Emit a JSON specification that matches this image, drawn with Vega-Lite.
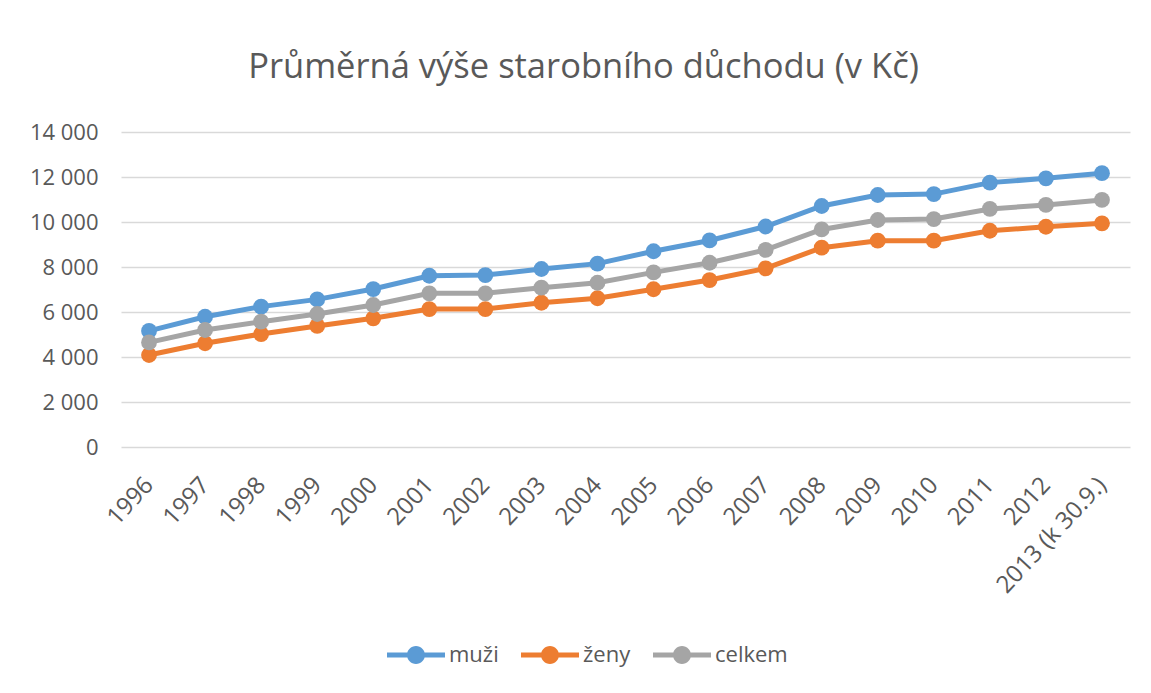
{
  "$schema": "https://vega.github.io/schema/vega-lite/v6.json",
  "autosize": "none",
  "width": 1009,
  "height": 315,
  "padding": {"left": 121, "top": 132, "right": 21, "bottom": 246},
  "background": "white",
  "title": {
    "text": "Průměrná výše starobního důchodu (v Kč)",
    "font": "Open Sans",
    "fontSize": 34.5,
    "fontWeight": "normal",
    "color": "#595959",
    "anchor": "middle",
    "dx": -42,
    "offset": 36
  },
  "config": {
    "view": {"stroke": null},
    "font": "Open Sans"
  },
  "resolve": {"legend": {"color": "independent"}},
  "data": {
    "values": [
      {"year": "1996", "series": "muži", "value": 5160},
      {"year": "1997", "series": "muži", "value": 5790},
      {"year": "1998", "series": "muži", "value": 6240},
      {"year": "1999", "series": "muži", "value": 6560},
      {"year": "2000", "series": "muži", "value": 7020},
      {"year": "2001", "series": "muži", "value": 7610},
      {"year": "2002", "series": "muži", "value": 7640},
      {"year": "2003", "series": "muži", "value": 7910},
      {"year": "2004", "series": "muži", "value": 8150},
      {"year": "2005", "series": "muži", "value": 8700},
      {"year": "2006", "series": "muži", "value": 9180},
      {"year": "2007", "series": "muži", "value": 9800},
      {"year": "2008", "series": "muži", "value": 10710},
      {"year": "2009", "series": "muži", "value": 11200},
      {"year": "2010", "series": "muži", "value": 11240},
      {"year": "2011", "series": "muži", "value": 11750},
      {"year": "2012", "series": "muži", "value": 11940},
      {"year": "2013 (k 30.9.)", "series": "muži", "value": 12170},
      {"year": "1996", "series": "ženy", "value": 4090},
      {"year": "1997", "series": "ženy", "value": 4610},
      {"year": "1998", "series": "ženy", "value": 5020},
      {"year": "1999", "series": "ženy", "value": 5380},
      {"year": "2000", "series": "ženy", "value": 5720},
      {"year": "2001", "series": "ženy", "value": 6130},
      {"year": "2002", "series": "ženy", "value": 6130},
      {"year": "2003", "series": "ženy", "value": 6410},
      {"year": "2004", "series": "ženy", "value": 6610},
      {"year": "2005", "series": "ženy", "value": 7010},
      {"year": "2006", "series": "ženy", "value": 7420},
      {"year": "2007", "series": "ženy", "value": 7940},
      {"year": "2008", "series": "ženy", "value": 8860},
      {"year": "2009", "series": "ženy", "value": 9170},
      {"year": "2010", "series": "ženy", "value": 9170},
      {"year": "2011", "series": "ženy", "value": 9610},
      {"year": "2012", "series": "ženy", "value": 9790},
      {"year": "2013 (k 30.9.)", "series": "ženy", "value": 9940},
      {"year": "1996", "series": "celkem", "value": 4650},
      {"year": "1997", "series": "celkem", "value": 5200},
      {"year": "1998", "series": "celkem", "value": 5570},
      {"year": "1999", "series": "celkem", "value": 5910},
      {"year": "2000", "series": "celkem", "value": 6310},
      {"year": "2001", "series": "celkem", "value": 6830},
      {"year": "2002", "series": "celkem", "value": 6830},
      {"year": "2003", "series": "celkem", "value": 7080},
      {"year": "2004", "series": "celkem", "value": 7300},
      {"year": "2005", "series": "celkem", "value": 7760},
      {"year": "2006", "series": "celkem", "value": 8190},
      {"year": "2007", "series": "celkem", "value": 8760},
      {"year": "2008", "series": "celkem", "value": 9670},
      {"year": "2009", "series": "celkem", "value": 10090},
      {"year": "2010", "series": "celkem", "value": 10130},
      {"year": "2011", "series": "celkem", "value": 10580},
      {"year": "2012", "series": "celkem", "value": 10760},
      {"year": "2013 (k 30.9.)", "series": "celkem", "value": 10980}
    ]
  },
  "encoding": {
    "x": {
      "field": "year",
      "type": "ordinal",
      "sort": null,
      "scale": {"type": "point", "padding": 0.5},
      "axis": {
        "title": null,
        "domain": false,
        "ticks": false,
        "grid": false,
        "labelAngle": -47,
        "labelAlign": "right",
        "labelBaseline": "middle",
        "labelPadding": 34,
        "labelFont": "Open Sans",
        "labelFontSize": 24,
        "labelColor": "#595959",
        "labelOverlap": false
      }
    },
    "y": {
      "field": "value",
      "type": "quantitative",
      "scale": {"domain": [0, 14000], "nice": false},
      "axis": {
        "title": null,
        "domain": false,
        "ticks": false,
        "values": [0, 2000, 4000, 6000, 8000, 10000, 12000, 14000],
        "labelExpr": "replace(format(datum.value, ','), ',', ' ')",
        "labelPadding": 23,
        "labelFont": "Open Sans",
        "labelFontSize": 22,
        "labelColor": "#595959",
        "gridColor": "#D9D9D9",
        "gridWidth": 1.3
      }
    }
  },
  "layer": [
    {
      "mark": {"type": "line", "strokeWidth": 5},
      "encoding": {
        "color": {
          "field": "series",
          "type": "nominal",
          "sort": ["muži", "ženy", "celkem"],
          "scale": {"domain": ["muži", "ženy", "celkem"], "range": ["#5B9BD5", "#ED7D31", "#A5A5A5"]},
          "legend": null
        }
      }
    },
    {
      "mark": {"type": "point", "filled": true, "opacity": 1, "size": 250},
      "encoding": {
        "color": {
          "field": "series",
          "type": "nominal",
          "sort": ["muži", "ženy", "celkem"],
          "scale": {"domain": ["muži", "ženy", "celkem"], "range": ["#5B9BD5", "#ED7D31", "#A5A5A5"]},
          "legend": {
            "title": null,
            "orient": "none",
            "direction": "horizontal",
            "legendX": 266,
            "legendY": 494,
            "symbolType": "M-1,-0.086H1V0.086H-1Z M-0.31,0A0.31,0.31,0,1,1,0.31,0A0.31,0.31,0,1,1,-0.31,0Z",
            "symbolSize": 3364,
            "symbolStrokeWidth": 0,
            "symbolOpacity": 1,
            "labelFont": "Open Sans",
            "labelFontSize": 22,
            "labelColor": "#595959",
            "labelOffset": 4,
            "columnPadding": 22
          }
        }
      }
    }
  ]
}
